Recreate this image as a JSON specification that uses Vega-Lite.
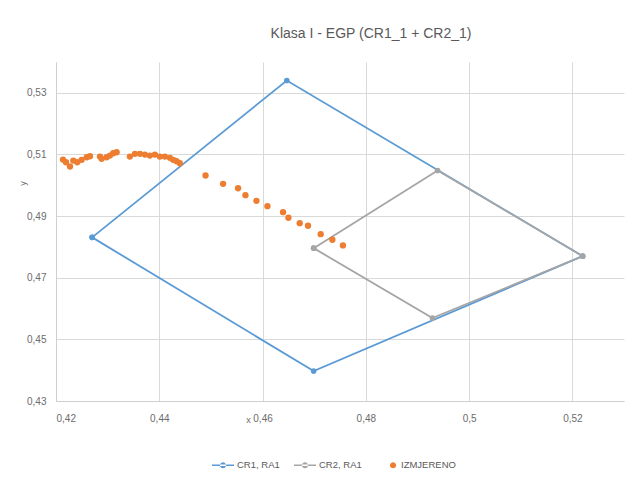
{
  "$schema": "https://vega.github.io/schema/vega-lite/v6.json",
  "width": 568,
  "height": 339,
  "autosize": {"type": "none"},
  "padding": {"left": 56, "top": 62, "right": 16, "bottom": 79},
  "background": "white",
  "config": {
    "view": {"stroke": null},
    "font": "Liberation Sans",
    "axis": {
      "labelFont": "Liberation Sans",
      "labelFontSize": 10,
      "labelColor": "#6b6b6b",
      "gridColor": "#D9D9D9",
      "gridWidth": 1,
      "domainColor": "#CFCFCF",
      "ticks": false,
      "titleFont": "Liberation Sans",
      "titleFontSize": 9,
      "titleFontWeight": "normal",
      "titleColor": "#6b6b6b"
    }
  },
  "title": {
    "text": "Klasa I - EGP (CR1_1 + CR2_1)",
    "anchor": "middle",
    "dx": 31,
    "offset": 21,
    "font": "Liberation Sans",
    "fontSize": 14,
    "fontWeight": "normal",
    "color": "#595959"
  },
  "data": {
    "values": [
      {"series": "CR1, RA1", "i": 0, "x": 0.427, "y": 0.4831},
      {"series": "CR1, RA1", "i": 1, "x": 0.4647, "y": 0.534},
      {"series": "CR1, RA1", "i": 2, "x": 0.522, "y": 0.477},
      {"series": "CR1, RA1", "i": 3, "x": 0.4699, "y": 0.4397},
      {"series": "CR1, RA1", "i": 4, "x": 0.427, "y": 0.4831},
      {"series": "CR2, RA1", "i": 0, "x": 0.4699, "y": 0.4796},
      {"series": "CR2, RA1", "i": 1, "x": 0.4939, "y": 0.5048},
      {"series": "CR2, RA1", "i": 2, "x": 0.522, "y": 0.477},
      {"series": "CR2, RA1", "i": 3, "x": 0.4929, "y": 0.4569},
      {"series": "CR2, RA1", "i": 4, "x": 0.4699, "y": 0.4796},
      {"series": "IZMJERENO", "i": 0, "x": 0.42135, "y": 0.50835},
      {"series": "IZMJERENO", "i": 1, "x": 0.42193, "y": 0.50747},
      {"series": "IZMJERENO", "i": 2, "x": 0.42271, "y": 0.50608},
      {"series": "IZMJERENO", "i": 3, "x": 0.42335, "y": 0.50802},
      {"series": "IZMJERENO", "i": 4, "x": 0.42412, "y": 0.50747},
      {"series": "IZMJERENO", "i": 5, "x": 0.42497, "y": 0.50825},
      {"series": "IZMJERENO", "i": 6, "x": 0.42594, "y": 0.50909},
      {"series": "IZMJERENO", "i": 7, "x": 0.42658, "y": 0.50942},
      {"series": "IZMJERENO", "i": 8, "x": 0.42851, "y": 0.50932},
      {"series": "IZMJERENO", "i": 9, "x": 0.42884, "y": 0.50857},
      {"series": "IZMJERENO", "i": 10, "x": 0.42981, "y": 0.50909},
      {"series": "IZMJERENO", "i": 11, "x": 0.43044, "y": 0.50964},
      {"series": "IZMJERENO", "i": 12, "x": 0.43108, "y": 0.51039},
      {"series": "IZMJERENO", "i": 13, "x": 0.43174, "y": 0.51071},
      {"series": "IZMJERENO", "i": 14, "x": 0.43431, "y": 0.50932},
      {"series": "IZMJERENO", "i": 15, "x": 0.43528, "y": 0.51019},
      {"series": "IZMJERENO", "i": 16, "x": 0.43625, "y": 0.51019},
      {"series": "IZMJERENO", "i": 17, "x": 0.43721, "y": 0.50997},
      {"series": "IZMJERENO", "i": 18, "x": 0.43818, "y": 0.50964},
      {"series": "IZMJERENO", "i": 19, "x": 0.43915, "y": 0.50997},
      {"series": "IZMJERENO", "i": 20, "x": 0.44011, "y": 0.50932},
      {"series": "IZMJERENO", "i": 21, "x": 0.44108, "y": 0.50932},
      {"series": "IZMJERENO", "i": 22, "x": 0.44205, "y": 0.5089},
      {"series": "IZMJERENO", "i": 23, "x": 0.44269, "y": 0.50825},
      {"series": "IZMJERENO", "i": 24, "x": 0.44335, "y": 0.5078},
      {"series": "IZMJERENO", "i": 25, "x": 0.44398, "y": 0.50715},
      {"series": "IZMJERENO", "i": 26, "x": 0.44896, "y": 0.50316},
      {"series": "IZMJERENO", "i": 27, "x": 0.45236, "y": 0.50047},
      {"series": "IZMJERENO", "i": 28, "x": 0.45526, "y": 0.49904},
      {"series": "IZMJERENO", "i": 29, "x": 0.45669, "y": 0.49678},
      {"series": "IZMJERENO", "i": 30, "x": 0.45882, "y": 0.49496},
      {"series": "IZMJERENO", "i": 31, "x": 0.46095, "y": 0.49321},
      {"series": "IZMJERENO", "i": 32, "x": 0.46397, "y": 0.49127},
      {"series": "IZMJERENO", "i": 33, "x": 0.46501, "y": 0.48945},
      {"series": "IZMJERENO", "i": 34, "x": 0.4672, "y": 0.4877},
      {"series": "IZMJERENO", "i": 35, "x": 0.4688, "y": 0.48686},
      {"series": "IZMJERENO", "i": 36, "x": 0.47126, "y": 0.48413},
      {"series": "IZMJERENO", "i": 37, "x": 0.47352, "y": 0.48232},
      {"series": "IZMJERENO", "i": 38, "x": 0.47557, "y": 0.48047}
    ]
  },
  "encoding": {
    "x": {
      "field": "x",
      "type": "quantitative",
      "scale": {"domain": [0.42, 0.53], "nice": false, "zero": false},
      "axis": {
        "values": [0.42, 0.44, 0.46, 0.48, 0.5, 0.52],
        "labelExpr": "replace(format(datum.value, '.2~f'), '.', ',')",
        "labelPadding": 12,
        "title": "x",
        "titleX": 192,
        "titleY": 18,
        "titleAlign": "center",
        "titleBaseline": "middle"
      }
    },
    "y": {
      "field": "y",
      "type": "quantitative",
      "scale": {"domain": [0.43, 0.54], "nice": false, "zero": false},
      "axis": {
        "values": [0.43, 0.45, 0.47, 0.49, 0.51, 0.53],
        "labelExpr": "replace(format(datum.value, '.2~f'), '.', ',')",
        "labelPadding": 10,
        "title": "y",
        "titleX": -34,
        "titleY": 121,
        "titleAlign": "center",
        "titleBaseline": "middle"
      }
    },
    "color": {
      "field": "series",
      "type": "nominal",
      "scale": {
        "domain": ["CR1, RA1", "CR2, RA1", "IZMJERENO"],
        "range": ["#5B9BD5", "#A5A5A5", "#ED7D31"]
      },
      "legend": {
        "title": null,
        "orient": "none",
        "direction": "horizontal",
        "legendX": 156,
        "legendY": 392,
        "labelFont": "Liberation Sans",
        "labelFontSize": 9.5,
        "labelColor": "#595959",
        "labelOffset": 3,
        "columnPadding": 14,
        "symbolSize": 484,
        "encode": {
          "symbols": {
            "update": {
              "shape": {"signal": "datum.value === 'IZMJERENO' ? 'M0.27,0A0.28,0.28 0 1,0 0.83,0A0.28,0.28 0 1,0 0.27,0Z' : 'M-1,-0.075L1,-0.075L1,0.075L-1,0.075Z M-0.28,0A0.28,0.28 0 1,0 0.28,0A0.28,0.28 0 1,0 -0.28,0Z'"},
              "fill": {"scale": "color", "field": "value"},
              "fillOpacity": {"value": 1},
              "opacity": {"value": 1},
              "strokeWidth": {"value": 0}
            }
          }
        }
      }
    }
  },
  "layer": [
    {
      "transform": [{"filter": "datum.series !== 'IZMJERENO'"}],
      "mark": {"type": "line", "strokeWidth": 1.8},
      "encoding": {"order": {"field": "i", "type": "quantitative"}}
    },
    {
      "transform": [{"filter": "datum.series !== 'IZMJERENO'"}],
      "mark": {"type": "point", "filled": true, "opacity": 1, "size": 32}
    },
    {
      "transform": [{"filter": "datum.series === 'IZMJERENO'"}],
      "mark": {"type": "point", "filled": true, "opacity": 1, "size": 40}
    }
  ]
}
